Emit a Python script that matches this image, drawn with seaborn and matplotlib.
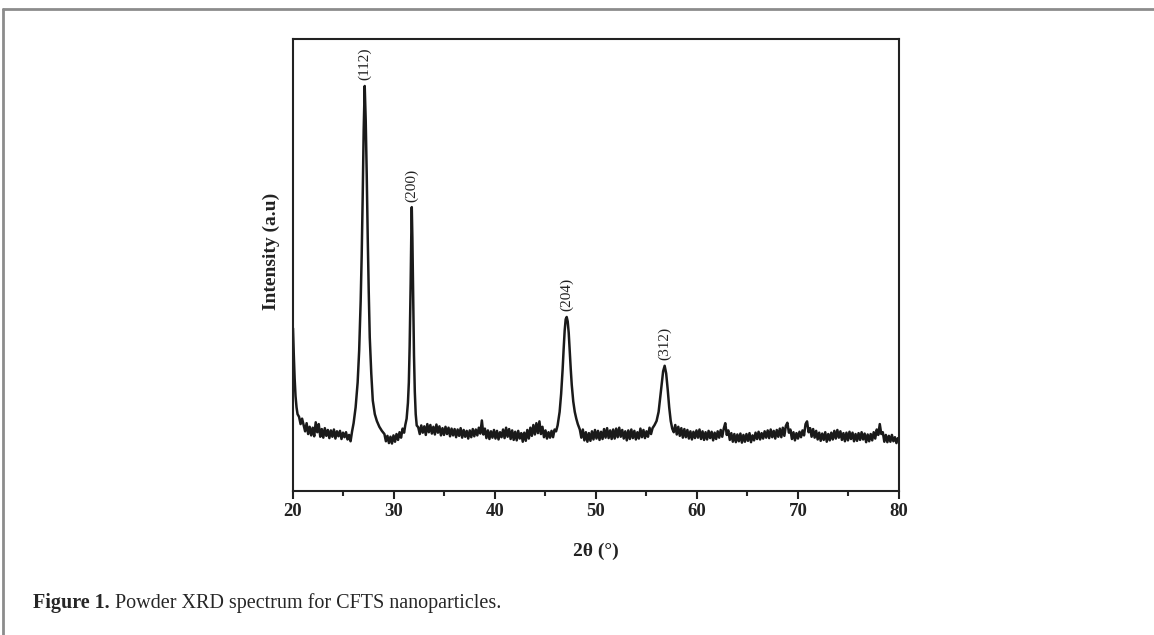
import numpy as np
import pandas as pd
import matplotlib.pyplot as plt
from matplotlib.lines import Line2D
import seaborn as sns

# Powder XRD pattern: (2theta in degrees, intensity in a.u.)
# the y scale is arbitrary: 0 = bottom of the frame, 100 = top of the frame
start_tail = [(20.0, 36.0), (20.08, 30.0), (20.16, 25.0), (20.25, 21.0), (20.35, 18.5),
              (20.45, 17.0), (20.6, 16.4), (20.75, 14.8), (20.9, 16.0), (21.05, 14.6),
              (21.2, 13.2), (21.35, 15.0), (21.5, 12.6), (21.65, 14.2), (21.8, 12.3),
              (21.95, 14.0), (22.1, 12.1), (22.25, 15.2), (22.4, 13.0), (22.55, 14.8),
              (22.7, 12.0), (22.85, 13.7), (23.0, 11.8), (23.15, 13.9), (23.3, 12.2),
              (23.45, 13.5), (23.6, 11.7), (23.75, 13.4), (23.9, 12.0), (24.05, 13.6),
              (24.2, 11.6), (24.35, 13.2), (24.5, 12.1), (24.65, 13.3), (24.8, 11.5),
              (24.95, 12.9), (25.1, 11.9), (25.25, 13.0), (25.4, 11.4), (25.55, 12.4),
              (25.7, 11.0), (25.85, 13.2)]

peak_112_200 = [(26.0, 15.0), (26.2, 18.5), (26.4, 24.0), (26.55, 31.0), (26.7, 42.0),
                (26.8, 52.0), (26.9, 65.0), (27.0, 80.0), (27.1, 89.6), (27.2, 82.0),
                (27.3, 70.0), (27.4, 56.0), (27.5, 44.0), (27.6, 34.0), (27.75, 26.0),
                (27.9, 20.0), (28.1, 17.0), (28.3, 15.5), (28.55, 14.2), (28.8, 13.3),
                (29.05, 12.6), (29.2, 11.0), (29.35, 12.2), (29.5, 10.6), (29.65, 12.0),
                (29.8, 10.5), (29.95, 12.3), (30.1, 10.9), (30.25, 12.6), (30.4, 11.3),
                (30.55, 13.0), (30.7, 11.8), (30.85, 13.8), (31.0, 12.9), (31.12, 14.6),
                (31.25, 16.0), (31.38, 19.5), (31.47, 24.0), (31.55, 32.0), (31.65, 46.0),
                (31.72, 58.0), (31.76, 62.8), (31.82, 56.0), (31.9, 43.0), (31.98, 30.0),
                (32.06, 22.0), (32.15, 17.0), (32.25, 14.5)]

mid_baseline = [(32.4, 14.1), (32.55, 12.6), (32.7, 14.5), (32.85, 12.9), (33.0, 14.3),
                (33.15, 12.4), (33.3, 14.8), (33.45, 13.0), (33.6, 14.6), (33.75, 12.7),
                (33.9, 14.2), (34.05, 12.5), (34.2, 14.7), (34.35, 12.9), (34.5, 14.3),
                (34.65, 12.3), (34.8, 13.9), (34.95, 12.4), (35.1, 14.2), (35.25, 12.6),
                (35.4, 14.0), (35.55, 12.1), (35.7, 13.8), (35.85, 12.3), (36.0, 13.7),
                (36.15, 11.9), (36.3, 13.6), (36.45, 12.2), (36.6, 13.9), (36.75, 11.8),
                (36.9, 13.5), (37.05, 12.0), (37.2, 13.3), (37.35, 11.6), (37.5, 13.4),
                (37.65, 11.9), (37.8, 13.7), (37.95, 12.1), (38.1, 13.6), (38.25, 12.3),
                (38.4, 14.0), (38.55, 12.7), (38.7, 15.6), (38.85, 12.5), (39.0, 13.8),
                (39.15, 11.7), (39.3, 13.4), (39.45, 11.5), (39.6, 13.2), (39.75, 11.8),
                (39.9, 13.5), (40.05, 11.6), (40.2, 13.3), (40.35, 11.4), (40.5, 13.0),
                (40.65, 11.9), (40.8, 13.6), (40.95, 11.7), (41.1, 14.0), (41.25, 12.0),
                (41.4, 13.7), (41.55, 11.5), (41.7, 13.4), (41.85, 11.3), (42.0, 13.1),
                (42.15, 11.2), (42.3, 13.3), (42.45, 11.6), (42.6, 12.8), (42.75, 10.9),
                (42.9, 12.9), (43.05, 11.1), (43.2, 13.5), (43.35, 11.6), (43.5, 14.0),
                (43.65, 12.2), (43.8, 14.6), (43.95, 12.5), (44.1, 15.0), (44.25, 12.8),
                (44.4, 15.4), (44.55, 12.6), (44.7, 14.2), (44.85, 11.9), (45.0, 13.4),
                (45.15, 11.6), (45.3, 13.0), (45.45, 11.8), (45.6, 13.3), (45.75, 11.9),
                (45.9, 13.6), (46.05, 13.2)]

peak_204 = [(46.2, 14.5), (46.4, 17.5), (46.55, 21.5), (46.7, 27.0), (46.8, 31.5),
            (46.9, 35.5), (47.0, 38.0), (47.1, 38.5), (47.2, 37.5), (47.3, 35.0),
            (47.4, 31.0), (47.5, 27.0), (47.6, 23.5), (47.75, 19.8), (47.9, 17.5),
            (48.05, 16.0), (48.2, 14.8), (48.4, 13.6)]

baseline_48_56 = [(48.55, 11.8), (48.7, 13.6), (48.85, 11.2), (49.0, 13.0), (49.15, 10.9),
                  (49.3, 12.8), (49.45, 11.1), (49.6, 13.2), (49.75, 11.4), (49.9, 13.5),
                  (50.05, 11.6), (50.2, 13.3), (50.35, 11.3), (50.5, 13.1), (50.65, 11.5),
                  (50.8, 13.7), (50.95, 11.8), (51.1, 13.9), (51.25, 11.7), (51.4, 13.4),
                  (51.55, 11.5), (51.7, 13.6), (51.85, 11.6), (52.0, 13.8), (52.15, 11.9),
                  (52.3, 14.0), (52.45, 12.0), (52.6, 13.5), (52.75, 11.6), (52.9, 13.2),
                  (53.05, 11.2), (53.2, 13.4), (53.35, 11.5), (53.5, 13.6), (53.65, 11.7),
                  (53.8, 13.3), (53.95, 11.4), (54.1, 13.0), (54.25, 11.6), (54.4, 13.8),
                  (54.55, 11.9), (54.7, 13.5), (54.85, 11.7), (55.0, 13.2), (55.15, 12.0),
                  (55.3, 14.0), (55.45, 12.6), (55.6, 13.9), (55.8, 14.6)]

peak_312 = [(56.0, 15.5), (56.2, 17.5), (56.35, 20.5), (56.5, 23.5), (56.65, 26.5),
            (56.8, 27.7), (56.95, 26.0), (57.1, 22.5), (57.25, 18.5), (57.4, 15.5),
            (57.55, 13.8), (57.7, 13.0)]

end_baseline = [(57.85, 14.6), (58.0, 12.5), (58.15, 14.2), (58.3, 12.2), (58.45, 13.9),
                (58.6, 11.8), (58.75, 13.7), (58.9, 11.9), (59.05, 13.5), (59.2, 11.6),
                (59.35, 13.2), (59.5, 11.4), (59.65, 13.1), (59.8, 11.7), (59.95, 13.4),
                (60.1, 11.8), (60.25, 13.6), (60.4, 11.5), (60.55, 13.2), (60.7, 11.3),
                (60.85, 13.0), (61.0, 11.4), (61.15, 13.3), (61.3, 11.7), (61.45, 13.1),
                (61.6, 11.2), (61.75, 12.9), (61.9, 11.5), (62.05, 13.2), (62.2, 11.8),
                (62.35, 13.5), (62.5, 12.0), (62.65, 13.8), (62.8, 15.0), (62.95, 12.4),
                (63.1, 13.4), (63.25, 11.3), (63.4, 12.8), (63.55, 10.9), (63.7, 12.6),
                (63.85, 10.8), (64.0, 12.5), (64.15, 11.0), (64.3, 12.7), (64.45, 10.7),
                (64.6, 12.4), (64.75, 10.9), (64.9, 12.6), (65.05, 11.1), (65.2, 12.8),
                (65.35, 10.8), (65.5, 12.3), (65.65, 11.2), (65.8, 12.9), (65.95, 11.5),
                (66.1, 13.1), (66.25, 11.4), (66.4, 12.8), (66.55, 11.6), (66.7, 13.2),
                (66.85, 11.8), (67.0, 13.4), (67.15, 11.7), (67.3, 13.6), (67.45, 11.9),
                (67.6, 13.3), (67.75, 11.6), (67.9, 13.5), (68.05, 12.0), (68.2, 13.8),
                (68.35, 11.9), (68.5, 14.0), (68.65, 12.2), (68.8, 14.4), (68.95, 15.1),
                (69.1, 12.9), (69.25, 13.6), (69.4, 11.5), (69.55, 13.0), (69.7, 11.2),
                (69.85, 12.8), (70.0, 11.6), (70.15, 13.1), (70.3, 11.9), (70.45, 13.4),
                (70.6, 12.3), (70.75, 14.8), (70.9, 15.4), (71.05, 13.0), (71.2, 13.9),
                (71.35, 12.0), (71.5, 13.7), (71.65, 11.8), (71.8, 13.3), (71.95, 11.4),
                (72.1, 12.9), (72.25, 11.1), (72.4, 12.7), (72.55, 11.3), (72.7, 13.0),
                (72.85, 10.9), (73.0, 12.6), (73.15, 11.2), (73.3, 12.9), (73.45, 11.4),
                (73.6, 13.3), (73.75, 11.6), (73.9, 13.5), (74.05, 11.8), (74.2, 13.2),
                (74.35, 11.3), (74.5, 12.8), (74.65, 11.0), (74.8, 12.9), (74.95, 11.2),
                (75.1, 13.1), (75.25, 11.5), (75.4, 12.9), (75.55, 11.0), (75.7, 12.6),
                (75.85, 11.1), (76.0, 12.8), (76.15, 11.3), (76.3, 13.0), (76.45, 11.4),
                (76.6, 12.7), (76.75, 10.8), (76.9, 12.5), (77.05, 11.0), (77.2, 12.6),
                (77.35, 11.2), (77.5, 13.0), (77.65, 11.6), (77.8, 13.6), (77.95, 12.4),
                (78.1, 14.8), (78.25, 12.6), (78.4, 13.0), (78.55, 10.9), (78.7, 12.4),
                (78.85, 10.8), (79.0, 12.2), (79.15, 10.9), (79.3, 12.4), (79.45, 11.0),
                (79.6, 11.9), (79.75, 10.6), (79.9, 11.7), (80.0, 11.2)]

# indexed reflections
peak_labels = ['(112)', '(200)', '(204)', '(312)']
peak_pos = [27.1, 31.76, 47.1, 56.8]
peak_top = [89.6, 62.8, 38.5, 27.7]

x_ticks = [20, 30, 40, 50, 60, 70, 80]

segments = [start_tail, peak_112_200, mid_baseline, peak_204,
            baseline_48_56, peak_312, end_baseline]
df_xrd = pd.DataFrame([p for seg in segments for p in seg], columns=['two_theta', 'intensity'])

# estilo
sns.set_style("ticks")
plt.rcParams['font.family'] = ['Liberation Serif', 'DejaVu Serif']

fig = plt.figure(figsize=(11.54, 6.35), dpi=100)
ax = fig.add_axes([0.2539, 0.2268, 0.5251, 0.7118])

sns.lineplot(data=df_xrd, x='two_theta', y='intensity', ax=ax,
             color='#1a1a1a', linewidth=1.8, sort=False)

for lab, px, py in zip(peak_labels, peak_pos, peak_top):
    ax.annotate(lab, xy=(px, py), xytext=(0, 4), textcoords='offset points',
                rotation=90, ha='center', va='bottom', fontsize=11, color='#222222')

ax.set_xlim(20, 80)
ax.set_ylim(0, 100)
ax.set_xticks(x_ticks)
ax.set_xticks(np.arange(25, 80, 10), minor=True)
ax.set_yticks([])
ax.tick_params(axis='x', which='major', direction='out', length=6, width=1.5,
               labelsize=13.5, pad=3, colors='#222222')
ax.tick_params(axis='x', which='minor', direction='out', length=3.5, width=1.5)
for lbl in ax.get_xticklabels():
    lbl.set_fontweight('bold')
for side in ['top', 'right', 'bottom', 'left']:
    ax.spines[side].set_visible(True)
    ax.spines[side].set_linewidth(1.5)
    ax.spines[side].set_color('#222222')

ax.set_xlabel('2θ (°)', fontsize=14, fontweight='bold', labelpad=16, color='#222222')
ax.set_ylabel('Intensity (a.u)', fontsize=14, fontweight='bold', color='#222222')
ax.yaxis.set_label_coords(-0.022, 0.53)

# moldura cinza da página e legenda da figura
fig.add_artist(Line2D([0.003, 1.0], [0.986, 0.986], transform=fig.transFigure,
                      color='#8c8c8c', linewidth=2))
fig.add_artist(Line2D([0.003, 0.003], [0.0, 0.986], transform=fig.transFigure,
                      color='#8c8c8c', linewidth=2))
cap_y = 1 - 603 / 635
t1 = fig.text(0.029, cap_y, 'Figure 1.', fontsize=14.5, fontweight='bold', va='center')
fig.canvas.draw()
bb = t1.get_window_extent().transformed(fig.transFigure.inverted())
fig.text(bb.x1, cap_y, ' Powder XRD spectrum for CFTS nanoparticles.', fontsize=14.5, va='center')

plt.savefig('out.png', dpi=100)
